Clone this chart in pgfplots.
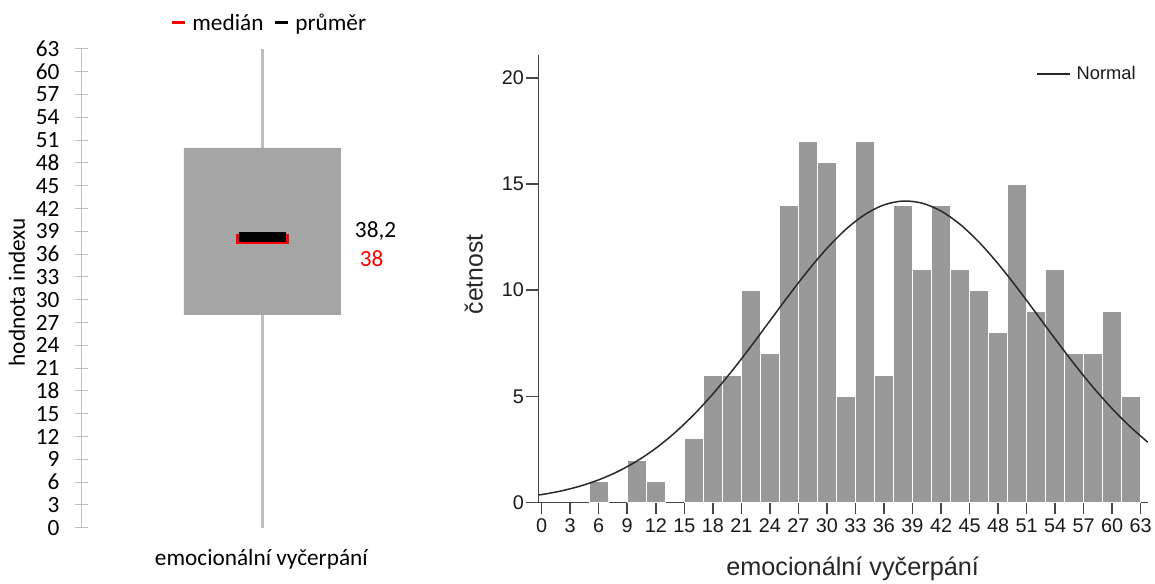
\documentclass[border=0pt]{standalone}
\usepackage{fontspec}
\usepackage{pgfplots}
\pgfplotsset{compat=1.18}
\newfontfamily\calibri{Carlito}
\newfontfamily\arial{Liberation Sans}
\definecolor{boxgray}{RGB}{165,165,165}
\definecolor{whiskergray}{RGB}{191,191,191}
\definecolor{bargray}{RGB}{153,153,153}
\definecolor{axisdark}{RGB}{70,70,70}
\definecolor{curvedark}{RGB}{40,40,40}
\newcommand{\leftfont}{\calibri\fontsize{23.5}{23.5}\selectfont}

\begin{document}
\begin{tikzpicture}[x=1bp,y=1bp]
\path (0,0) rectangle (1155,583);

% ---- box plot of the index values ----
\begin{axis}[
  at={(82bp,52bp)}, anchor=south west,
  width=364bp, height=481.7bp, scale only axis,
  xmin=82, xmax=446, ymin=0, ymax=63,
  hide x axis,
  axis y line*=left,
  axis line style={whiskergray, line width=1.5bp},
  ytick={0,3,...,63},
  tick align=center,
  major tick length=14bp,
  tick style={whiskergray, line width=1bp},
  /pgf/number format/assume math mode=true,
  yticklabel style={font=\leftfont, anchor=east, inner sep=0pt, xshift=-15bp},
  clip=false,
  legend columns=2,
  legend style={at={(axis description cs:0.5165,1.0546)}, anchor=center,
    draw=none, fill=none, inner sep=0pt,
    font=\leftfont,
    nodes={inner sep=0pt},
    /tikz/every odd column/.append style={column sep=6bp},
    /tikz/every even column/.append style={column sep=10bp}},
  legend image code/.code={\draw[#1, line width=3bp] (0bp,0bp) -- (13bp,0bp);},
]
\addplot[whiskergray, line width=3bp, forget plot] coordinates {(264,0) (264,63)};
\addplot[draw=none, fill=boxgray, forget plot] coordinates {(185,28) (343,28) (343,50) (185,50) (185,28)};
\addplot[red, line width=10.5bp, line cap=butt] coordinates {(237,38) (291,38)};
\addlegendentry{medián}
\addplot[black, line width=10bp, line cap=butt] coordinates {(240,38.2) (288,38.2)};
\addlegendentry{průměr}
\node[anchor=west, inner sep=0pt, font=\leftfont] at (axis cs:357,39.1) {38,2};
\node[anchor=west, inner sep=0pt, text=red, font=\leftfont] at (axis cs:362,35.35) {38};
\end{axis}
\node[rotate=90, font=\leftfont] at (17,289) {hodnota indexu};
\node[font=\leftfont] at (263,20) {emocionální vyčerpání};

% ---- histogram with normal curve ----
\begin{axis}[
  at={(541.7bp,77.3bp)}, anchor=south west,
  width=613.3bp, height=450.7bp, scale only axis,
  xmin=-0.35, xmax=63.75, ymin=0, ymax=21.09,
  axis x line*=bottom, axis y line*=left,
  axis line style={axisdark, line width=1.5bp},
  xtick={0,3,...,63}, ytick={0,5,...,20},
  tick align=outside,
  major tick length=12bp,
  tick style={axisdark, line width=1.5bp},
  /pgf/number format/assume math mode=true,
  ticklabel style={font=\arial\fontsize{20}{20}\selectfont, text=black!90},
  xticklabel style={yshift=-1bp},
  yticklabel style={xshift=1bp},
  legend style={at={(axis description cs:0.8169,0.957)}, anchor=west,
    draw=none, fill=none, inner sep=0pt,
    font=\arial\fontsize{18.5}{18.5}\selectfont, text=black!90,
    nodes={inner sep=0pt},
    /tikz/every odd column/.append style={column sep=6bp}},
  legend image code/.code={\draw[#1] (0bp,0bp) -- (33bp,0bp);},
]
\addplot[ybar, bar width=2, bar shift=0pt, fill=bargray, draw=white, line width=1.2bp, forget plot]
  table {
x y
6 1
10 2
12 1
16 3
18 6
20 6
22 10
24 7
26 14
28 17
30 16
32 5
34 17
36 6
38 14
40 11
42 14
44 11
46 10
48 8
50 15
52 9
54 11
56 7
58 7
60 9
62 5
};
\addplot[curvedark, line width=1.5bp, smooth] coordinates {
(-0.35,0.36) (0,0.374) (2,0.541) (4,0.768) (6,1.068) (8,1.458) (10,1.949)
(12,2.555) (14,3.285) (16,4.138) (18,5.111) (20,6.189) (22,7.348)
(24,8.553) (26,9.759) (28,10.915) (30,11.970) (32,12.869) (34,13.564)
(36,14.015) (38,14.197) (40,14.099) (42,13.726) (44,13.101) (46,12.259)
(48,11.245) (50,10.113) (52,8.916) (54,7.706) (56,6.530) (58,5.425)
(60,4.418) (62,3.527) (63.75,2.84)
};
\addlegendentry{Normal}
\end{axis}
\node[rotate=90, font=\arial\fontsize{25}{25}\selectfont, text=black!85] at (476.7,307) {četnost};
\node[font=\arial\fontsize{25.5}{25.5}\selectfont, text=black!85] at (858,11) {emocionální vyčerpání};
\end{tikzpicture}
\end{document}
